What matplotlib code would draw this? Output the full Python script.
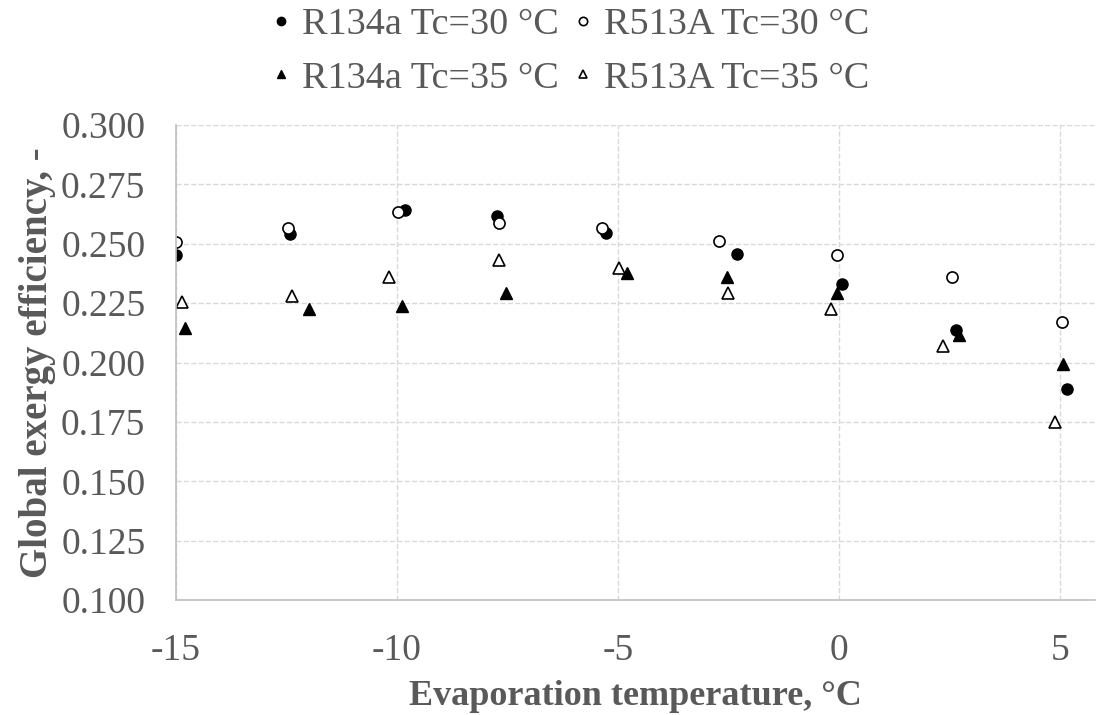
import matplotlib.pyplot as plt

plt.rcParams['font.family'] = ['Liberation Serif', 'DejaVu Serif']
plt.rcParams['axes.unicode_minus'] = False

# R134a Tc=30 °C
x_r134a_30 = [-15.0, -12.42, -9.81, -7.74, -5.27, -2.30, 0.08, 2.66, 5.17]
y_r134a_30 = [0.2453, 0.2540, 0.2642, 0.2618, 0.2547, 0.2457, 0.2329, 0.2137, 0.1888]

# R513A Tc=30 °C
x_r513a_30 = [-15.0, -12.47, -9.97, -7.69, -5.36, -2.71, -0.05, 2.56, 5.05]
y_r513a_30 = [0.2506, 0.2568, 0.2635, 0.2586, 0.2568, 0.2513, 0.2454, 0.2361, 0.2172]

# R134a Tc=35 °C
x_r134a_35 = [-14.80, -12.00, -9.89, -7.54, -4.80, -2.53, -0.05, 2.71, 5.07]
y_r134a_35 = [0.2144, 0.2225, 0.2239, 0.2294, 0.2376, 0.2361, 0.2294, 0.2116, 0.1994]

# R513A Tc=35 °C
x_r513a_35 = [-14.87, -12.38, -10.17, -7.69, -4.98, -2.50, -0.17, 2.36, 4.89]
y_r513a_35 = [0.2256, 0.2280, 0.2359, 0.2432, 0.2397, 0.2294, 0.2224, 0.2069, 0.1751]

x_ticks = [-15, -10, -5, 0, 5]
y_ticks = [0.100, 0.125, 0.150, 0.175, 0.200, 0.225, 0.250, 0.275, 0.300]

grey = '#595959'

fig = plt.figure(figsize=(10.98, 7.15), dpi=100)
ax = fig.add_axes([0.1603, 0.1608, 0.837, 0.6643])

ms = 8
h1, = ax.plot(x_r134a_30, y_r134a_30, 'o', color='black', ms=ms, label='R134a Tc=30 °C')
h2, = ax.plot(x_r513a_30, y_r513a_30, 'o', mfc='white', mec='black', mew=1.2, ms=ms, label='R513A Tc=30 °C')
h3, = ax.plot(x_r134a_35, y_r134a_35, '^', color='black', ms=ms, label='R134a Tc=35 °C')
h4, = ax.plot(x_r513a_35, y_r513a_35, '^', mfc='white', mec='black', mew=1.2, ms=ms, label='R513A Tc=35 °C')

ax.set_xlim(-15, 5.8)
ax.set_ylim(0.100, 0.300)
ax.set_xticks(x_ticks)
ax.set_yticks(y_ticks)
ax.set_yticklabels(['%.3f' % v for v in y_ticks])
ax.tick_params(length=0, labelsize=27, labelcolor=grey)
ax.tick_params(axis='x', pad=24)
ax.tick_params(axis='y', pad=22)
ax.grid(True, color='#d9d9d9', linestyle='--', linewidth=1)
ax.set_axisbelow(True)

for s in ['top', 'right']:
    ax.spines[s].set_visible(False)
for s in ['left', 'bottom']:
    ax.spines[s].set_color('#bfbfbf')
    ax.spines[s].set_linewidth(1.2)

ax.set_xlabel('Evaporation temperature, °C', fontsize=26, fontweight='bold', color=grey, labelpad=9)
ax.set_ylabel('Global exergy efficiency, -', fontsize=28, fontweight='bold', color=grey, labelpad=4)

# column-wise fill -> row order: (h1, h2), (h3, h4)
leg = fig.legend([h1, h3, h2, h4], [h1.get_label(), h3.get_label(), h2.get_label(), h4.get_label()],
                 loc='upper center', bbox_to_anchor=(0.515, 1.038), ncol=2, frameon=False,
                 fontsize=27.5, markerscale=0.75, handletextpad=0.05, columnspacing=0.15,
                 handlelength=1.0, labelspacing=0.5)
for t in leg.get_texts():
    t.set_color(grey)

fig.savefig('out.png', dpi=100)
